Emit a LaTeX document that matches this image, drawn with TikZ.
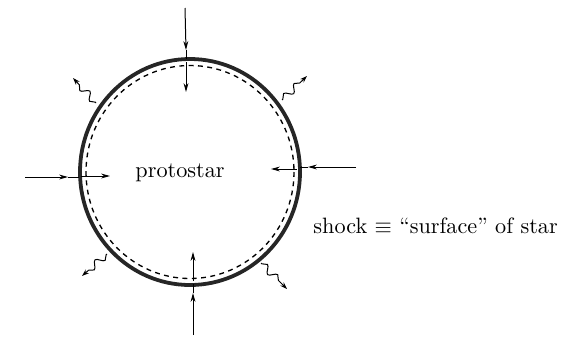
\documentclass[tikz,border=0pt]{standalone}
\usetikzlibrary{arrows.meta,decorations.pathmorphing}
\begin{document}
\begin{tikzpicture}[x=0.45pt,y=-0.45pt,
  shockline/.style={line width=1.7pt,black!85},
  innerline/.style={line width=0.6pt,dash pattern=on 2.2pt off 2pt},
  ln/.style={line width=0.45pt},
  arr/.style={line width=0.45pt,-{Stealth[length=4pt,width=2.2pt]}},
  wavy/.style={line width=0.45pt,-{Stealth[length=3.2pt,width=2.2pt]},
    decorate,decoration={snake,segment length=6.5pt,amplitude=1.6pt,pre length=0.5pt,post length=2.5pt}},
  lbl/.style={inner sep=0pt,font=\fontsize{10}{12}\selectfont}]
\useasboundingbox (0,0) rectangle (580,339);
% star surface
\draw[shockline] (190,172) ellipse [x radius=110, y radius=113];
\draw[innerline] (190,172) ellipse [x radius=104, y radius=106.5];
% coordinates
\coordinate (t0) at (185,8);   \coordinate (th) at (186,50);  \coordinate (t1) at (186,59);
\coordinate (ti0) at (186,62); \coordinate (ti1) at (186,92);
\coordinate (b0) at (193,335); \coordinate (bh) at (193,293); \coordinate (b1) at (193,284);
\coordinate (bi0) at (193,281);\coordinate (bi1) at (193,252);
\coordinate (l0) at (25,177);  \coordinate (lh) at (68,177);  \coordinate (l1) at (79,177);
\coordinate (li0) at (81,176); \coordinate (li1) at (110,176);
\coordinate (r0) at (356,167); \coordinate (rh) at (308,167); \coordinate (r1) at (300,167);
\coordinate (ri0) at (297,169);\coordinate (ri1) at (271,169);
% infall arrows (outside)
\draw[arr] (t0) -- (th); \draw[ln] (th) -- (t1);
\draw[arr] (b0) -- (bh); \draw[ln] (bh) -- (b1);
\draw[arr] (l0) -- (lh); \draw[ln] (lh) -- (l1);
\draw[arr] (r0) -- (rh); \draw[ln] (rh) -- (r1);
% arrows inside
\draw[arr] (ti0) -- (ti1);
\draw[arr] (bi0) -- (bi1);
\draw[arr] (li0) -- (li1);
\draw[arr] (ri0) -- (ri1);
% radiation
\coordinate (w1a) at (96,103);  \coordinate (w1b) at (73,78);
\coordinate (w2a) at (282,100); \coordinate (w2b) at (307,76);
\coordinate (w3a) at (107,254); \coordinate (w3b) at (82,276);
\coordinate (w4a) at (261,263); \coordinate (w4b) at (287,289);
\draw[wavy] (w1a) -- (w1b);
\draw[wavy] (w2a) -- (w2b);
\draw[wavy] (w3a) -- (w3b);
\draw[wavy] (w4a) -- (w4b);
% labels
\node[lbl,anchor=base west] (proto) at (135,177) {protostar};
\node[lbl,anchor=base west] (shock) at (313,233) {shock $\equiv$ ``surface'' of star};
\end{tikzpicture}
\end{document}
